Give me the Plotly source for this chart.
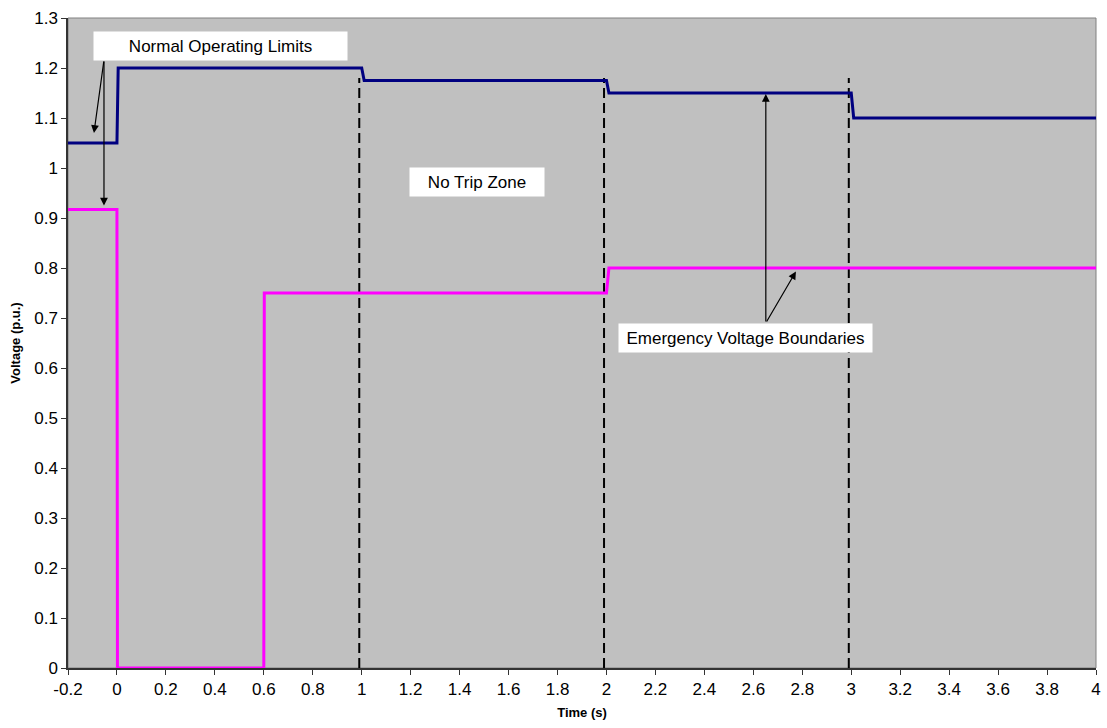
import plotly.graph_objects as go

# upper (navy) and lower (magenta) emergency voltage boundaries, p.u.
upper_t = [-0.2, 0.0, 0.005, 1.0, 1.01, 2.0, 2.01, 3.0, 3.01, 4.0]
upper_v = [1.05, 1.05, 1.2, 1.2, 1.175, 1.175, 1.15, 1.15, 1.1, 1.1]
lower_t = [-0.2, 0.0, 0.002, 0.6, 0.602, 2.0, 2.01, 4.0]
lower_v = [0.917, 0.917, 0.0, 0.0, 0.75, 0.75, 0.8, 0.8]

# dashed zone separators
zone_t = [0.99, 1.99, 2.99]
zone_top = [1.18, 1.18, 1.18]

x_ticks = [round(-0.2 + 0.2 * i, 1) for i in range(22)]
x_ticktext = ["-0.2", "0", "0.2", "0.4", "0.6", "0.8", "1", "1.2", "1.4", "1.6", "1.8",
              "2", "2.2", "2.4", "2.6", "2.8", "3", "3.2", "3.4", "3.6", "3.8", "4"]
y_ticks = [round(0.1 * i, 1) for i in range(14)]
y_ticktext = ["0", "0.1", "0.2", "0.3", "0.4", "0.5", "0.6", "0.7", "0.8", "0.9",
              "1", "1.1", "1.2", "1.3"]

FONT = "Liberation Sans, Arial, sans-serif"

fig = go.Figure()

for t, top in zip(zone_t, zone_top):
    fig.add_trace(go.Scatter(
        x=[t, t], y=[0, top], mode="lines",
        line=dict(color="black", width=2, dash="10px,5px"),
        hoverinfo="skip", showlegend=False,
    ))

fig.add_trace(go.Scatter(
    x=upper_t, y=upper_v, mode="lines",
    line=dict(color="#000080", width=3), showlegend=False,
))
fig.add_trace(go.Scatter(
    x=lower_t, y=lower_v, mode="lines",
    line=dict(color="#FF00FF", width=3), showlegend=False,
))

# arrows (text-less annotations, tail -> head in data coords)
arrows = [
    ((-0.053, 1.216), (-0.094, 1.07)),
    ((-0.053, 1.216), (-0.053, 0.925)),
    ((2.651, 0.69), (2.651, 1.148)),
    ((2.651, 0.69), (2.774, 0.793)),
]
for (tx, ty), (hx, hy) in arrows:
    fig.add_annotation(
        x=hx, y=hy, ax=tx, ay=ty, xref="x", yref="y", axref="x", ayref="y",
        text="", showarrow=True, arrowhead=2, arrowsize=1.3, arrowwidth=1.2,
        arrowcolor="black",
    )

labels = [
    ("Normal Operating Limits", 0.421, 1.244, 251),
    ("No Trip Zone", 1.47, 0.972, 132),
    ("Emergency Voltage Boundaries", 2.568, 0.661, 251),
]
for text, lx, ly, w in labels:
    fig.add_annotation(
        x=lx, y=ly, xref="x", yref="y", text=text, showarrow=False,
        bgcolor="white", width=w, height=26,
        font=dict(family=FONT, size=17, color="black"),
    )

fig.update_layout(
    width=1107, height=728,
    margin=dict(l=68, r=6, t=18, b=60),
    paper_bgcolor="white", plot_bgcolor="#C0C0C0",
    font=dict(family=FONT, size=17, color="black"),
    xaxis=dict(
        range=[-0.2, 4.0], tickvals=x_ticks, ticktext=x_ticktext,
        showgrid=False, zeroline=False, showline=True, linecolor="#333333",
        linewidth=1.5, ticks="outside", ticklen=5, tickcolor="#333333",
        title=dict(text="<b>Time (s)</b>", font=dict(size=13), standoff=10),
    ),
    yaxis=dict(
        range=[0, 1.3], tickvals=y_ticks, ticktext=y_ticktext,
        showgrid=False, zeroline=False, showline=True, linecolor="#333333",
        linewidth=1.5, ticks="outside", ticklen=5, tickcolor="#333333",
        title=dict(text="<b>Voltage (p.u.)</b>", font=dict(size=13), standoff=11),
    ),
)

# thin grey frame on top / right
fig.add_shape(type="rect", xref="paper", yref="paper", x0=0, y0=0, x1=1, y1=1,
              line=dict(color="#808080", width=1), layer="below")

# drop the default page margin so the figure fills the window exactly
fig.write_html(
    "out.html",
    config={"displayModeBar": False},
    post_script="document.body.style.margin='0';document.body.style.overflow='hidden';",
)
